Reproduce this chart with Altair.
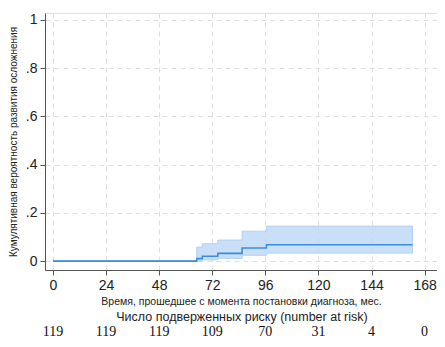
import altair as alt
import pandas as pd

# Kaplan-Meier style cumulative incidence
time = [0, 65, 67.5, 74.5, 85.5, 96.5, 162.5]
est = [0, 0.010, 0.020, 0.032, 0.054, 0.068, 0.068]
lo = [0, 0.001, 0.005, 0.011, 0.024, 0.033, 0.033]
hi = [0, 0.058, 0.072, 0.087, 0.124, 0.145, 0.145]

risk_months = [0, 24, 48, 72, 96, 120, 144, 168]
risk_counts = [119, 119, 119, 109, 70, 31, 4, 0]

x_ticks = [0, 24, 48, 72, 96, 120, 144, 168]
y_ticks = [0, 0.2, 0.4, 0.6, 0.8, 1.0]

df = pd.DataFrame({"t": time, "est": est, "lo": lo, "hi": hi})
rk = pd.DataFrame({"m": risk_months, "n": [str(v) for v in risk_counts]})
ttl = pd.DataFrame({"m": [84], "label": ["Число подверженных риску (number at risk)"]})

W, H = 392, 257

xscale = alt.Scale(domain=[-3.6, 173.6], nice=False, zero=False)
yscale = alt.Scale(domain=[-0.037, 1.029], nice=False, zero=False)

xaxis = alt.Axis(values=x_ticks, title="Время, прошедшее с момента постановки диагноза, мес.",
                 titleFontSize=10.5, titleFontWeight="normal", titlePadding=4,
                 labelFontSize=14, labelPadding=3, tickSize=5,
                 grid=True, gridDash=[5, 4], gridColor="#dedede",
                 domainColor="#555555", tickColor="#555555", labelColor="#222222",
                 titleColor="#222222")
yaxis = alt.Axis(values=y_ticks, title="Кумулятивная вероятность развития осложнения",
                 titleFontSize=10, titleFontWeight="normal", titlePadding=7,
                 labelFontSize=14, labelPadding=3, tickSize=5,
                 labelExpr="datum.value == 0 ? '0' : (datum.value == 1 ? '1' : replace(format(datum.value, '.1f'), '0.', '.'))",
                 grid=True, gridDash=[5, 4], gridColor="#dedede",
                 domainColor="#555555", tickColor="#555555", labelColor="#222222",
                 titleColor="#222222")

base = alt.Chart(df)

band = base.mark_area(interpolate="step-after", color="#bcd8f6", opacity=0.8,
                      stroke="#9ec7f2", strokeWidth=1).encode(
    x=alt.X("t:Q", scale=xscale, axis=xaxis),
    y=alt.Y("lo:Q", scale=yscale, axis=yaxis),
    y2="hi:Q",
)

line = base.mark_line(interpolate="step-after", color="#3b8de0", strokeWidth=1.6).encode(
    x=alt.X("t:Q", scale=xscale),
    y=alt.Y("est:Q", scale=yscale),
)

risk = alt.Chart(rk).mark_text(font="Liberation Serif", fontSize=14, color="#111111",
                               baseline="middle", align="center").encode(
    x=alt.X("m:Q", scale=xscale),
    y=alt.value(H + 62),
    text="n:N",
)

risk_title = alt.Chart(ttl).mark_text(font="Liberation Sans", fontSize=12.5, color="#222222",
                                      baseline="middle", align="center").encode(
    x=alt.value(W / 2 + 1),
    y=alt.value(H + 47),
    text="label:N",
)

chart = alt.layer(band, line, risk, risk_title).properties(
    width=W, height=H,
    autosize=alt.AutoSizeParams(type="none"),
    padding={"left": 37, "top": 5, "right": 0, "bottom": 69},
).configure_view(strokeWidth=0).configure(font="Liberation Sans")

chart.save("out.html", embed_options={"renderer": "svg", "actions": False})
